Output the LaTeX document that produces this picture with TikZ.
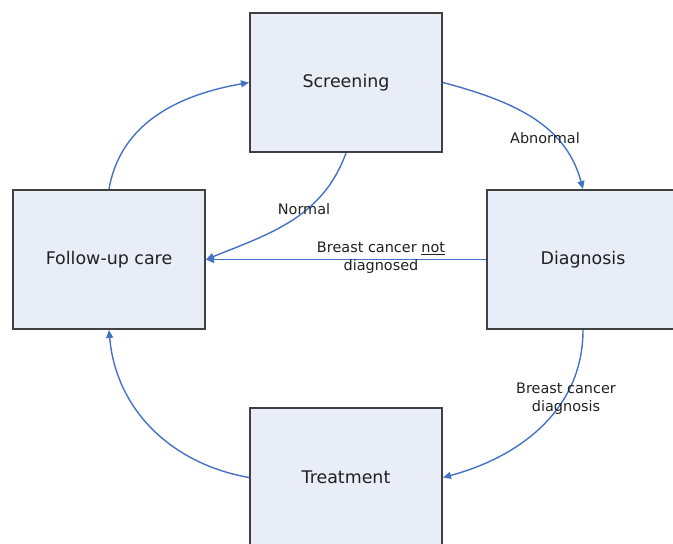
\documentclass[tikz,border=0pt]{standalone}
\usepackage{fontspec}
\setmainfont{DejaVu Sans}
\usetikzlibrary{arrows.meta}
\definecolor{boxfill}{RGB}{232,237,247}
\definecolor{boxborder}{RGB}{64,64,64}
\definecolor{flowblue}{RGB}{68,114,196}
\definecolor{textdark}{RGB}{32,32,32}
\newcommand\myboxfont{\fontsize{17.5}{21}\selectfont}
\newcommand\mylabelfont{\fontsize{14.5}{18}\selectfont}
\tikzset{
  stagebox/.style={draw=boxborder, line width=2bp, fill=boxfill,
    minimum width=192bp, minimum height=139bp, inner sep=0pt,
    font=\myboxfont, text=textdark},
  flow/.style={draw=flowblue, line width=1.4bp,
    -{Triangle[length=8bp,width=7bp]}},
  flowlabel/.style={font=\mylabelfont, text=textdark, align=center, inner sep=0pt}
}
\begin{document}
\begin{tikzpicture}[x=1bp,y=1bp]
\useasboundingbox (0,0) rectangle (673,-544);
\begin{scope}
\clip (0,0) rectangle (673,-544);
\node[stagebox] (scr) at (346,-82.5) {Screening};
\node[stagebox] (fol) at (109,-259.5) {Follow-up care};
\node[stagebox] (dia) at (583,-259.5) {Diagnosis};
\node[stagebox] (trt) at (346,-477.5) {Treatment};
\end{scope}

\draw[flow] (scr.east) to[out=-15,in=105] (dia.north);
\draw[flow] (dia.south) to[out=-90,in=15] (trt.east);
\draw[flow] (trt.west) to[out=170,in=-85] (fol.south);
\draw[flow] (fol.north) to[out=80,in=190] (scr.west);
\draw[flow] (scr.south) to[out=-110,in=22] (fol.east);
\draw[flow] (dia.west) -- (fol.east);

\node[flowlabel] (labab) at (545,-138) {Abnormal};
\node[flowlabel] (labbc) at (566,-398.5) {Breast cancer\\diagnosis};
\node[flowlabel] (labno) at (304,-209) {Normal};
\node[flowlabel] (labnd) at (381,-258) {Breast cancer \underline{not}\\diagnosed};
\end{tikzpicture}
\end{document}
